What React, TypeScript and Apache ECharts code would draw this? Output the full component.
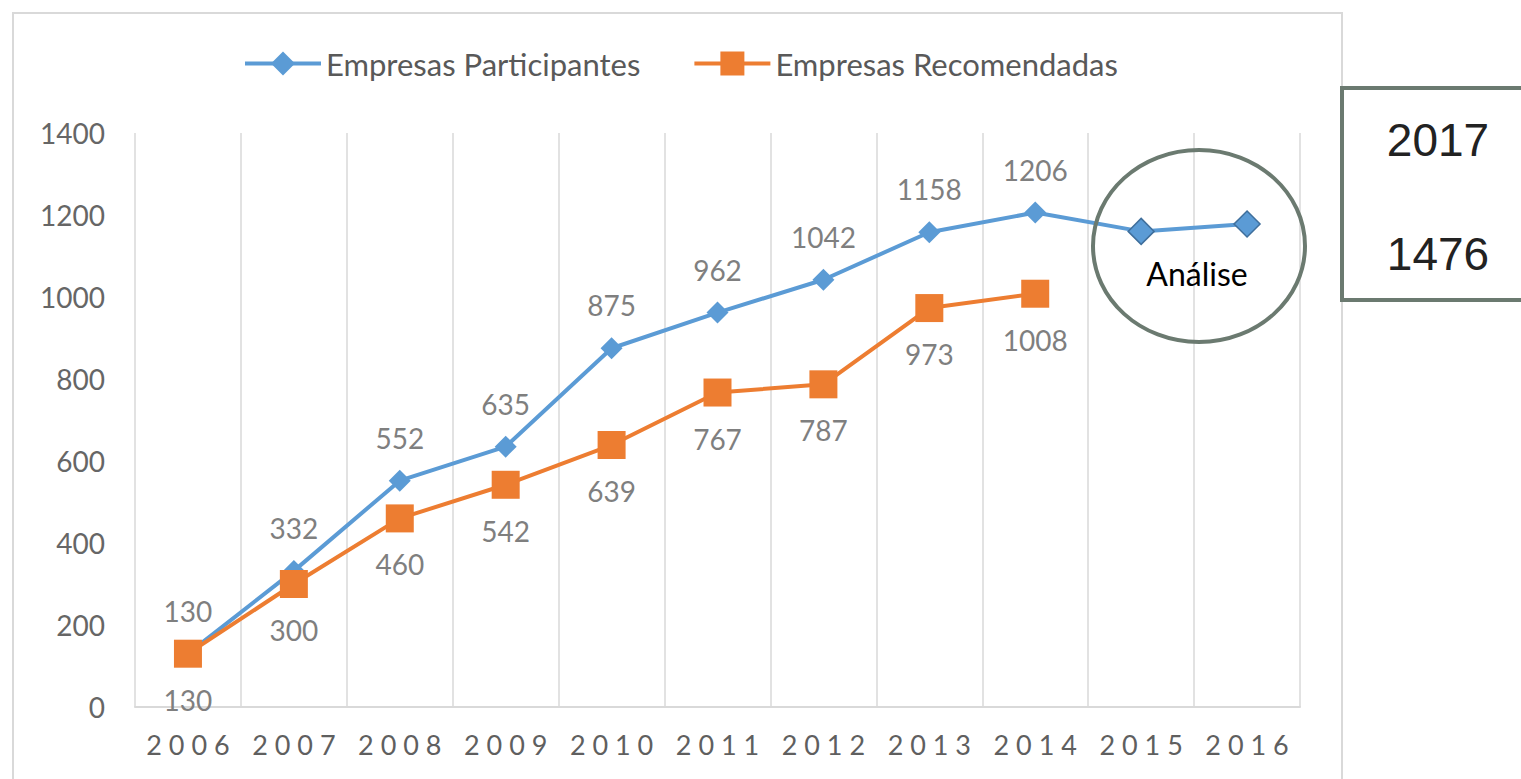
import React, { useEffect, useRef } from "react";
import * as echarts from "echarts";

const years = ["2006", "2007", "2008", "2009", "2010", "2011", "2012", "2013", "2014", "2015", "2016"];
const participantes = [130, 332, 552, 635, 875, 962, 1042, 1158, 1206, 1160, 1178];
const recomendadas: (number | null)[] = [130, 300, 460, 542, 639, 767, 787, 973, 1008, null, null];
const yTicks = { min: 0, max: 1400, interval: 200 };
const boxYear = "2017";
const boxValue = "1476";
const circleLabel = "Análise";

const FONT = "Lato, 'Open Sans', sans-serif";

export default function App() {
  const ref = useRef<HTMLDivElement>(null);
  useEffect(() => {
    if (!ref.current) return;
    const chart = echarts.init(ref.current, null, { renderer: "svg" });
    const partData = participantes.map((v, i) =>
      i >= 9
        ? { value: v, label: { show: false }, symbolSize: 26, itemStyle: { borderColor: "#3f6f9c", borderWidth: 1.5 } }
        : v
    );
    chart.setOption({
      animation: false,
      backgroundColor: "#fff",
      textStyle: { fontFamily: FONT },
      legend: {
        top: 43,
        left: 238,
        itemWidth: 76,
        itemHeight: 30,
        itemGap: 52,
        lineStyle: { width: 4 },
        textStyle: { fontSize: 31, color: "#595959", fontFamily: FONT },
        data: ["Empresas Participantes", "Empresas Recomendadas"],
      },
      grid: { left: 135, right: 221, top: 133, bottom: 72, containLabel: false },
      xAxis: {
        type: "category",
        data: years,
        boundaryGap: true,
        axisLine: { show: true, lineStyle: { color: "#d9d9d9", width: 2 } },
        axisTick: { show: false },
        splitLine: { show: true, interval: 0, lineStyle: { color: "#d9d9d9", width: 1.5 } },
        axisLabel: {
          interval: 0,
          color: "#5f5f5f",
          fontSize: 27,
          fontFamily: FONT,
          margin: 24,
          formatter: (v: string) => v.split("").join(" "),
        },
      },
      yAxis: {
        type: "value",
        min: yTicks.min,
        max: yTicks.max,
        interval: yTicks.interval,
        axisLine: { show: false },
        axisTick: { show: false },
        splitLine: { show: false },
        axisLabel: { color: "#666", fontSize: 28, fontFamily: FONT, margin: 30, formatter: (v: number) => String(v) },
      },
      series: [
        {
          name: "Empresas Participantes",
          type: "line",
          data: partData,
          symbol: "diamond",
          symbolSize: 22,
          lineStyle: { color: "#5b9bd5", width: 4 },
          itemStyle: { color: "#5b9bd5" },
          label: { show: true, position: "top", distance: 18, color: "#7f7f7f", fontSize: 28, fontFamily: FONT },
          z: 2,
        },
        {
          name: "Empresas Recomendadas",
          type: "line",
          data: recomendadas,
          symbol: "rect",
          symbolSize: 28,
          lineStyle: { color: "#ed7d31", width: 4 },
          itemStyle: { color: "#ed7d31" },
          label: { show: true, position: "bottom", distance: 18, color: "#7f7f7f", fontSize: 28, fontFamily: FONT },
          z: 3,
        },
      ],
      graphic: [
        {
          type: "rect",
          shape: { x: 13, y: 13, width: 1329, height: 800 },
          style: { fill: "none", stroke: "#d9d9d9", lineWidth: 2 },
          silent: true,
          z: -1,
        },
        {
          type: "ellipse",
          shape: { cx: 1199, cy: 246, rx: 106, ry: 96 },
          style: { fill: "none", stroke: "#6b7a70", lineWidth: 4 },
          z: 10,
        },
        {
          type: "text",
          x: 1197,
          y: 273,
          style: { text: circleLabel, fill: "#000", font: `32px ${FONT}`, textAlign: "center", textVerticalAlign: "middle" },
          z: 10,
        },
        {
          type: "rect",
          shape: { x: 1342, y: 88, width: 220, height: 212 },
          style: { fill: "#fff", stroke: "#6b7a70", lineWidth: 4 },
          z: 10,
        },
        {
          type: "text",
          x: 1438,
          y: 140,
          style: { text: boxYear, fill: "#222", font: `46px 'Liberation Sans', Arial, sans-serif`, textAlign: "center", textVerticalAlign: "middle" },
          z: 11,
        },
        {
          type: "text",
          x: 1438,
          y: 254,
          style: { text: boxValue, fill: "#222", font: `46px 'Liberation Sans', Arial, sans-serif`, textAlign: "center", textVerticalAlign: "middle" },
          z: 11,
        },
      ],
    });
    return () => chart.dispose();
  }, []);
  return <div ref={ref} style={{ position: "absolute", left: 0, top: 0, width: 1521, height: 779 }} />;
}
